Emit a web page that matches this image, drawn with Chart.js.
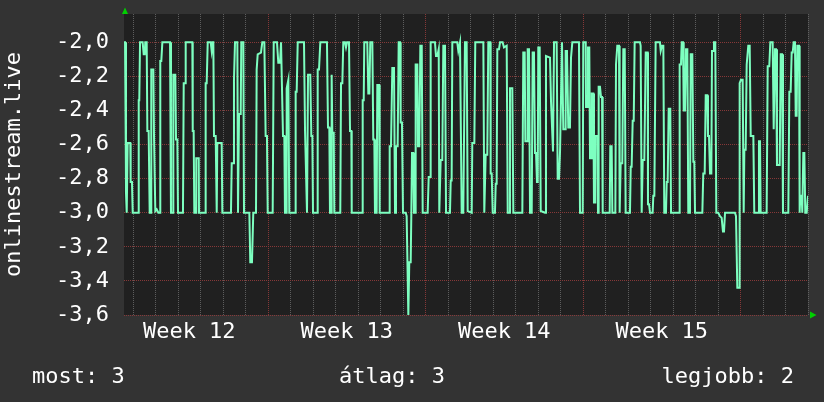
<!DOCTYPE html>
<html><head><meta charset="utf-8">
<script src="https://cdn.jsdelivr.net/npm/chart.js@4/dist/chart.umd.min.js"></script>
<style>html,body{margin:0;padding:0;background:#333333;overflow:hidden}#wrap{width:824px;height:402px}</style>
</head><body><div id="wrap"><canvas id="c" width="824" height="402"></canvas></div>
<script>
// time in hours since the start of week 12
const hours = [14.4,15.5,16.5,17.3,18.3,21.1,21.5,22.9,23.7,29.7,30.1,30.7,31.5,34.3,35.4,36.5,37.1,38.6,39.3,40.7,41.8,43.2,43.5,45.7,46.4,47.1,47.8,49.3,51.0,52.8,53.1,54.2,55.3,63.5,64.5,66.7,67.0,69.1,69.9,71.3,72.0,77.3,78.1,79.5,80.2,87.3,87.7,88.7,89.4,91.2,91.5,94.1,94.4,100.8,101.5,102.6,103.7,106.9,107.9,109.0,109.7,110.4,112.2,113.3,113.9,118.6,119.3,128.5,129.3,130.7,131.7,132.8,135.3,136.0,136.7,137.1,138.9,139.5,141.7,142.4,148.1,149.1,150.9,152.3,155.2,155.9,157.0,160.5,161.9,164.1,165.5,166.9,167.7,173.0,174.1,177.6,179.0,180.8,181.9,182.9,184.0,185.4,186.1,187.5,187.9,189.7,190.7,196.8,197.5,198.6,199.7,206.4,207.5,208.5,209.6,210.7,213.1,214.2,215.3,216.0,220.3,221.0,222.4,223.8,230.9,232.0,233.4,234.1,235.2,235.9,236.6,238.1,238.7,245.1,245.9,247.3,248.3,250.1,251.2,252.3,254.4,255.5,256.9,257.3,268.6,269.0,270.1,270.7,273.9,275.0,276.1,277.1,279.3,280.3,281.4,282.1,283.9,284.6,286.4,287.1,297.1,297.8,299.2,300.6,302.4,303.5,304.5,306.3,307.4,308.8,309.5,310.9,312.0,314.9,315.9,317.7,318.7,320.2,320.9,321.6,323.0,323.7,324.8,325.5,327.3,328.0,329.4,330.5,332.0,333.0,338.3,339.4,340.8,341.5,346.1,347.2,348.6,350.1,350.7,352.2,353.9,355.0,356.8,357.9,362.1,362.9,363.9,364.6,369.9,371.0,372.8,374.6,376.3,378.1,379.9,381.0,385.3,385.9,388.1,389.1,397.7,398.7,400.2,401.9,403.0,405.1,405.5,406.6,407.7,410.1,410.9,411.9,412.6,414.4,415.5,418.3,419.7,422.6,423.7,425.4,426.1,428.6,429.7,439.3,440.3,441.8,442.5,444.3,445.0,446.4,447.5,449.3,450.3,451.7,452.8,453.9,454.9,455.7,456.3,457.8,458.9,463.5,464.5,468.8,469.9,470.9,472.0,473.1,475.9,477.0,478.4,479.5,480.5,481.6,482.3,483.0,484.8,485.5,486.9,488.3,490.1,491.2,492.6,499.7,500.8,503.7,504.3,506.9,507.2,509.0,509.3,510.7,511.5,512.9,513.3,515.0,515.7,516.8,517.1,519.3,520.0,520.7,522.1,523.2,524.3,525.0,532.5,533.1,534.6,535.3,538.5,539.2,540.6,542.4,543.1,544.2,545.9,547.0,548.5,549.5,554.1,554.9,555.9,557.0,558.1,559.1,564.8,565.5,566.6,567.7,569.4,570.9,573.0,573.3,574.4,575.5,578.3,579.0,580.1,581.5,586.1,586.9,588.3,589.7,590.7,592.5,593.3,594.3,595.4,597.1,597.9,606.4,607.1,608.5,609.3,610.7,611.4,612.8,613.9,615.3,616.3,618.1,618.9,620.6,621.7,622.7,623.5,631.3,632.3,633.8,634.9,636.6,637.3,638.4,639.5,640.9,641.6,643.0,643.7,645.1,646.2,648.3,650.1,651.9,653.3,654.4,655.5,666.1,667.2,668.6,670.4,671.1,672.5,674.3,675.4,676.1,677.5,678.6,680.3,681.8,682.9,685.7,686.7,691.0,691.7,692.8,693.5,699.9,701.0,702.7,703.8,706.3,707.4,708.8,709.9,710.9,713.8,714.9,716.3,717.3,723.0,724.1,725.5,726.6,727.7,728.7,730.1,730.9,731.9,732.6,734.4,735.1,735.8,737.3,737.9,739.0,740.1,741.1,742.6,744.0];
const values = [-2.0,-2.0,-2.88,-3.0,-2.59,-2.59,-2.82,-2.82,-3.0,-3.0,-2.34,-2.34,-2.0,-2.0,-2.07,-2.07,-2.0,-2.0,-2.52,-2.52,-3.0,-3.0,-2.16,-2.16,-2.55,-2.55,-2.99,-2.98,-3.0,-3.0,-2.11,-2.11,-2.0,-2.0,-3.0,-3.0,-2.19,-2.19,-2.57,-2.57,-3.0,-3.0,-2.24,-2.24,-2.0,-2.0,-2.52,-2.52,-3.0,-3.0,-2.68,-2.68,-3.0,-3.0,-2.24,-2.24,-2.0,-2.0,-2.05,-2.0,-2.0,-2.55,-2.55,-3.0,-2.59,-2.59,-3.0,-3.0,-2.71,-2.71,-2.22,-2.0,-2.0,-3.0,-3.0,-2.42,-2.42,-2.0,-2.0,-3.0,-3.0,-3.29,-3.29,-3.0,-3.0,-2.16,-2.07,-2.06,-2.0,-2.0,-2.55,-2.55,-3.0,-3.0,-2.0,-2.0,-2.12,-2.12,-2.0,-2.0,-2.55,-2.55,-3.0,-3.0,-2.27,-2.22,-3.0,-3.0,-2.29,-2.29,-2.0,-2.0,-2.52,-2.52,-3.0,-2.19,-2.19,-2.55,-2.55,-3.0,-3.0,-2.16,-2.16,-2.0,-2.0,-2.5,-2.5,-3.0,-3.0,-2.19,-2.53,-2.53,-3.0,-3.0,-2.24,-2.24,-2.0,-2.0,-2.03,-2.0,-2.0,-2.52,-2.52,-3.0,-3.0,-2.34,-2.34,-2.0,-2.0,-2.3,-2.3,-2.0,-2.0,-2.57,-2.57,-3.0,-3.0,-2.25,-2.25,-3.0,-3.0,-2.61,-2.61,-2.15,-2.15,-3.0,-2.61,-2.61,-2.0,-2.0,-2.47,-2.47,-3.0,-3.0,-3.02,-3.6,-3.29,-3.29,-3.0,-2.65,-2.65,-3.0,-3.0,-2.13,-2.13,-2.61,-2.61,-2.02,-2.02,-3.0,-3.0,-2.79,-2.79,-2.0,-2.0,-2.08,-2.08,-2.04,-3.0,-2.69,-2.69,-2.02,-2.02,-3.0,-3.0,-2.81,-2.81,-2.0,-2.0,-2.05,-2.0,-3.0,-3.0,-2.0,-2.0,-2.99,-3.0,-2.59,-2.59,-2.0,-2.0,-3.0,-2.66,-2.66,-2.0,-2.0,-2.77,-2.77,-3.0,-3.0,-2.83,-2.83,-2.04,-2.04,-2.0,-2.0,-2.03,-2.02,-3.0,-3.0,-2.27,-2.27,-3.0,-3.0,-2.06,-2.06,-2.58,-2.58,-2.04,-2.04,-3.0,-3.0,-2.06,-2.06,-2.65,-2.65,-2.82,-2.82,-2.03,-2.03,-2.99,-3.0,-2.08,-2.09,-2.35,-2.35,-2.64,-2.0,-2.0,-2.8,-2.8,-2.64,-2.64,-2.0,-2.0,-2.51,-2.51,-2.05,-2.05,-2.5,-2.5,-2.09,-2.0,-2.0,-3.0,-3.0,-2.0,-2.0,-2.38,-2.38,-2.03,-2.03,-2.68,-2.68,-2.3,-2.3,-2.94,-2.94,-2.55,-2.55,-3.0,-2.26,-2.26,-2.32,-2.32,-3.0,-3.0,-2.61,-2.61,-3.0,-3.0,-2.13,-2.02,-2.02,-3.0,-2.71,-2.71,-2.04,-2.04,-3.0,-3.0,-2.73,-2.73,-2.46,-2.46,-2.0,-2.0,-2.02,-3.0,-2.69,-2.69,-2.06,-2.06,-2.95,-2.95,-3.0,-3.0,-2.9,-2.9,-2.0,-2.0,-2.05,-2.02,-2.02,-3.0,-3.0,-2.82,-2.82,-2.39,-2.39,-3.0,-3.0,-2.13,-2.13,-2.0,-2.0,-2.4,-2.4,-2.04,-2.04,-3.0,-3.0,-2.07,-2.07,-2.7,-2.7,-3.0,-3.0,-2.77,-2.77,-2.31,-2.31,-2.55,-2.55,-2.77,-2.77,-2.05,-2.05,-2.0,-2.0,-3.0,-3.0,-3.02,-3.03,-3.11,-3.11,-3.0,-3.0,-3.02,-3.44,-3.44,-2.24,-2.22,-2.22,-3.0,-2.63,-2.63,-2.13,-2.02,-2.02,-2.55,-2.55,-3.0,-3.0,-2.58,-2.58,-3.0,-3.0,-2.14,-2.14,-2.0,-2.0,-2.51,-2.04,-2.04,-2.72,-2.72,-2.07,-2.07,-3.0,-3.0,-2.29,-2.29,-2.06,-2.06,-2.0,-2.0,-2.43,-2.43,-2.02,-2.02,-3.0,-2.9,-2.9,-3.0,-2.65,-2.65,-3.0,-3.0,-2.9];
const yTickValues = [-3.6,-3.5,-3.4,-3.3,-3.2,-3.1,-3.0,-2.9,-2.8,-2.7,-2.6,-2.5,-2.4,-2.3,-2.2,-2.1,-2.0,-1.9];
const weekMidHours = [84, 252, 420, 588];
const weekLabels = ['Week 12', 'Week 13', 'Week 14', 'Week 15'];
const legendTexts = ['most: 3', 'átlag: 3', 'legjobb: 2'];
const yTitle = 'onlinestream.live';
const X_MIN = 14.4, X_MAX = 744.0, Y_MIN = -3.6, Y_MAX = -1.8336;

const FONT = "'DejaVu Sans Mono', monospace";
const MINOR = 'rgba(105,105,105,0.85)';
const MAJOR = 'rgba(140,58,58,0.95)';
const LINE = '#7dffc0';
const ARROW = '#00d000';

const dayTicks = [];
for (let h = 24; h <= X_MAX + 0.01; h += 24) dayTicks.push(h);
const xTickValues = dayTicks.concat(weekMidHours).sort((a, b) => a - b);

const bgPlugin = {
  id: 'bg',
  beforeDraw(chart) {
    const { ctx, chartArea: a } = chart;
    ctx.save();
    ctx.fillStyle = '#333333';
    ctx.fillRect(0, 0, chart.width, chart.height);
    ctx.fillStyle = '#202020';
    ctx.fillRect(a.left, a.top, a.right - a.left, a.bottom - a.top);
    ctx.restore();
  }
};
const decoPlugin = {
  id: 'deco',
  afterDraw(chart) {
    const { ctx, chartArea: a } = chart;
    ctx.save();
    ctx.fillStyle = ARROW;
    ctx.beginPath();
    ctx.moveTo(a.left + 1 - 3, a.top);
    ctx.lineTo(a.left + 1 + 3, a.top);
    ctx.lineTo(a.left + 1, a.top - 6.5);
    ctx.closePath(); ctx.fill();
    ctx.beginPath();
    ctx.moveTo(a.right + 2, a.bottom - 3.5);
    ctx.lineTo(a.right + 2, a.bottom + 3.5);
    ctx.lineTo(a.right + 8.5, a.bottom);
    ctx.closePath(); ctx.fill();
    ctx.fillStyle = '#ffffff';
    ctx.font = '22px ' + FONT;
    ctx.textBaseline = 'alphabetic';
    ctx.textAlign = 'left';
    ctx.fillText(legendTexts[0], 32, 383);
    ctx.fillText(legendTexts[1], 339, 383);
    ctx.textAlign = 'right';
    ctx.fillText(legendTexts[2], 794, 383);
    ctx.restore();
  }
};

new Chart(document.getElementById('c'), {
  type: 'line',
  data: {
    datasets: [{
      data: hours.map((h, i) => ({ x: h, y: values[i] })),
      borderColor: LINE,
      borderWidth: 2,
      pointRadius: 0,
      tension: 0,
      fill: false
    }]
  },
  options: {
    responsive: false,
    animation: false,
    events: [],
    layout: { padding: { top: 14, right: 16, left: 0, bottom: 0 } },
    plugins: { legend: { display: false }, tooltip: { enabled: false } },
    scales: {
      x: {
        type: 'linear', min: X_MIN, max: X_MAX,
        afterBuildTicks: s => { s.ticks = xTickValues.map(v => ({ value: v })); },
        afterFit: s => { s.height = 87; s.paddingLeft = 0; s.paddingRight = 0; },
        grid: {
          drawTicks: false, lineWidth: 1,
          color: c => {
            const v = c.tick ? c.tick.value : 0;
            if (Math.abs(v / 24 - Math.round(v / 24)) > 1e-6) return 'rgba(0,0,0,0)';
            return Math.abs(v / 168 - Math.round(v / 168)) < 1e-6 ? MAJOR : MINOR;
          }
        },
        border: { display: false, dash: [1, 1] },
        ticks: {
          autoSkip: false, maxRotation: 0, minRotation: 0, padding: 4,
          color: '#ffffff', font: { family: FONT, size: 22 },
          callback: v => { const i = weekMidHours.indexOf(v); return i >= 0 ? weekLabels[i] : ''; }
        }
      },
      y: {
        type: 'linear', min: Y_MIN, max: Y_MAX,
        afterBuildTicks: s => { s.ticks = yTickValues.map(v => ({ value: v })); },
        afterFit: s => { s.width = 124; s.paddingTop = 0; s.paddingBottom = 0; },
        grid: {
          drawTicks: false, lineWidth: 1,
          color: c => {
            const v = c.tick ? c.tick.value : 0;
            return Math.round(v * 10) % 2 === 0 ? MAJOR : MINOR;
          }
        },
        border: { display: false, dash: [1, 1] },
        ticks: {
          padding: 15, color: '#ffffff', font: { family: FONT, size: 22 },
          callback: v => Math.round(v * 10) % 2 === 0 ? v.toFixed(1).replace('.', ',') : ''
        },
        title: {
          display: true, text: yTitle, color: '#ffffff', padding: { top: 3, bottom: 0 },
          font: { family: FONT, size: 22, lineHeight: 1 }
        }
      }
    }
  },
  plugins: [bgPlugin, decoPlugin]
});
</script>
</body></html>
